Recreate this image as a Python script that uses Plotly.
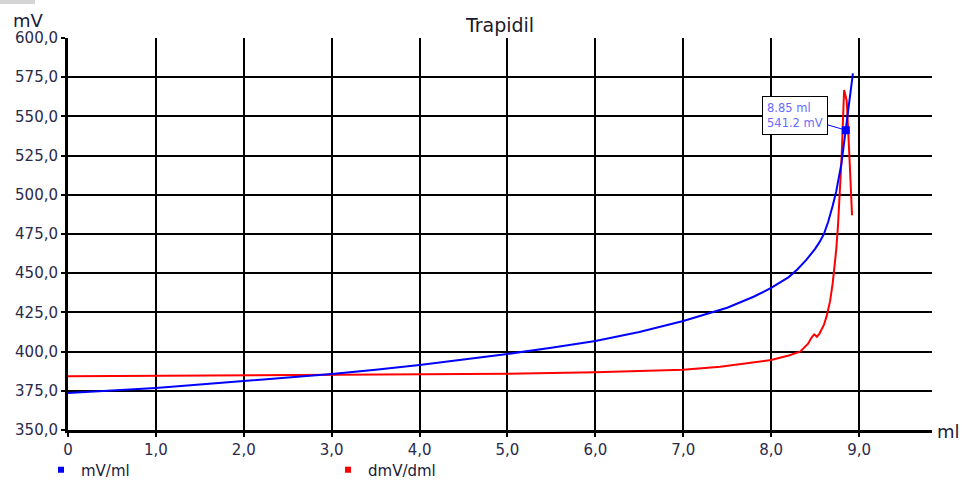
import plotly.graph_objects as go

# --- data ---
blue_x = [0, 0.5, 1.0, 1.5, 2.0, 2.5, 3.0, 3.5, 4.0, 4.5, 5.0, 5.5, 6.0, 6.5, 7.0, 7.5,
          7.8, 8.0, 8.1, 8.2, 8.3, 8.4, 8.5, 8.55, 8.6, 8.65, 8.7, 8.74, 8.8, 8.85, 8.9, 8.93]
blue_y = [373.6, 375.1, 376.8, 379.0, 381.3, 383.5, 385.7, 388.5, 391.5, 395.0, 398.5, 402.5,
          406.8, 412.5, 419.5, 428.0, 435.0, 440.6, 443.8, 447.5, 452.5, 458.5, 465.5, 469.8,
          475.0, 483.0, 493.0, 502.0, 520.0, 541.2, 563.0, 577.5]

red_x = [0, 1, 2, 3, 4, 5, 6, 6.5, 7, 7.42, 7.7, 8.0, 8.2, 8.33, 8.42, 8.46, 8.49, 8.52,
         8.55, 8.6, 8.63, 8.67, 8.70, 8.74, 8.76, 8.80, 8.83, 8.86, 8.89, 8.92]
red_y = [384.2, 384.5, 384.8, 385.2, 385.5, 385.8, 386.8, 387.5, 388.5, 390.4, 392.5, 394.6,
         397.5, 400.0, 405.0, 409.0, 411.0, 409.5, 411.5, 417.0, 422.3, 432.0, 443.5, 464.8,
         480.0, 522.0, 566.8, 560.0, 525.0, 487.0]

marker_x = [8.85]
marker_y = [541.2]
marker_text = "8.85 ml<br>541.2 mV"

x_tickvals = [0, 1, 2, 3, 4, 5, 6, 7, 8, 9]
x_ticktext = ["0", "1,0", "2,0", "3,0", "4,0", "5,0", "6,0", "7,0", "8,0", "9,0"]
y_tickvals = [350, 375, 400, 425, 450, 475, 500, 525, 550, 575, 600]
y_ticktext = ["350,0", "375,0", "400,0", "425,0", "450,0", "475,0", "500,0",
              "525,0", "550,0", "575,0", "600,0"]

series_names = ["mV/ml", "dmV/dml"]
BLUE = "#0000ff"
RED = "#ff0000"
TXT = "#1a1a3a"

W, H = 962, 481
PL, PT, PR, PB = 68, 38, 932, 430          # plot area in page pixels
L, T, R, B = PL, PT, W - PR, H - PB
PW, PH = W - L - R, H - T - B


def px(xp):
    return (xp - PL) / PW


def py(yp):
    return (PB - yp) / PH


fig = go.Figure()
fig.add_trace(go.Scatter(x=red_x, y=red_y, mode="lines", line=dict(color=RED, width=2),
                         showlegend=False, hoverinfo="skip"))
fig.add_trace(go.Scatter(x=blue_x, y=blue_y, mode="lines", line=dict(color=BLUE, width=2),
                         showlegend=False, hoverinfo="skip"))
fig.add_trace(go.Scatter(x=marker_x, y=marker_y, mode="markers",
                         marker=dict(symbol="square", size=8, color=BLUE),
                         showlegend=False, hoverinfo="skip"))
# legend entries (square symbols as in the reference)
fig.add_trace(go.Scatter(x=[None], y=[None], mode="markers", name=series_names[0],
                         marker=dict(symbol="square", size=6, color=BLUE)))
fig.add_trace(go.Scatter(x=[None], y=[None], mode="markers", name=series_names[1],
                         marker=dict(symbol="square", size=6, color=RED)))

fig.add_annotation(x=marker_x[0], y=marker_y[0], text=marker_text, showarrow=True,
                   arrowhead=0, arrowcolor=BLUE, arrowwidth=1, ax=-51, ay=-15,
                   bgcolor="white", bordercolor="black", borderwidth=1, borderpad=4,
                   align="left", font=dict(family="DejaVu Sans", size=11.5, color="#6a6aff"))

fig.add_annotation(text="mV", xref="paper", yref="paper", x=px(11), y=py(20),
                   xanchor="left", yanchor="middle", showarrow=False,
                   font=dict(family="DejaVu Sans", size=18, color=TXT))
fig.add_annotation(text="ml", xref="paper", yref="paper", x=px(935), y=py(431),
                   xanchor="left", yanchor="middle", showarrow=False,
                   font=dict(family="DejaVu Sans", size=18, color=TXT))

fig.add_shape(type="rect", xref="paper", yref="paper", x0=px(0), x1=px(35),
              y0=py(4), y1=py(0), fillcolor="#d4d4d4", line=dict(width=0))

fig.update_layout(
    width=W, height=H,
    margin=dict(l=L, r=R, t=T, b=B, autoexpand=False),
    paper_bgcolor="white", plot_bgcolor="white",
    title=dict(text="Trapidil", x=((PL + PR) / 2) / W, xanchor="center",
               y=1 - 25 / H, yanchor="middle",
               font=dict(family="DejaVu Sans", size=19, color="#1a1a2a")),
    font=dict(family="DejaVu Sans", size=15, color=TXT),
    showlegend=True,
    legend=dict(orientation="h", xref="container", yref="container",
                x=41 / W, y=1 - 470 / H,
                xanchor="left", yanchor="middle", entrywidth=242, entrywidthmode="pixels",
                itemwidth=30, font=dict(family="DejaVu Sans", size=15, color=TXT),
                bgcolor="rgba(0,0,0,0)"),
)
fig.update_xaxes(range=[0, 9.83], tickvals=x_tickvals, ticktext=x_ticktext, automargin=False,
                 showgrid=True, gridcolor="black", gridwidth=2,
                 showline=True, linecolor="black", linewidth=3,
                 ticks="outside", ticklen=4, tickwidth=2, tickcolor="black",
                 zeroline=False, tickfont=dict(size=15, color="#2a2a4a"))
fig.update_yaxes(range=[350, 600], tickvals=y_tickvals, ticktext=y_ticktext, automargin=False,
                 showgrid=True, gridcolor="black", gridwidth=2,
                 showline=True, linecolor="black", linewidth=3,
                 ticks="outside", ticklen=4, tickwidth=2, tickcolor="black",
                 zeroline=False, tickfont=dict(size=15, color="#2a2a4a"))

fig.write_html("out.html", config={"displayModeBar": False},
               post_script="document.body.style.margin='0';document.body.style.overflow='hidden';")
